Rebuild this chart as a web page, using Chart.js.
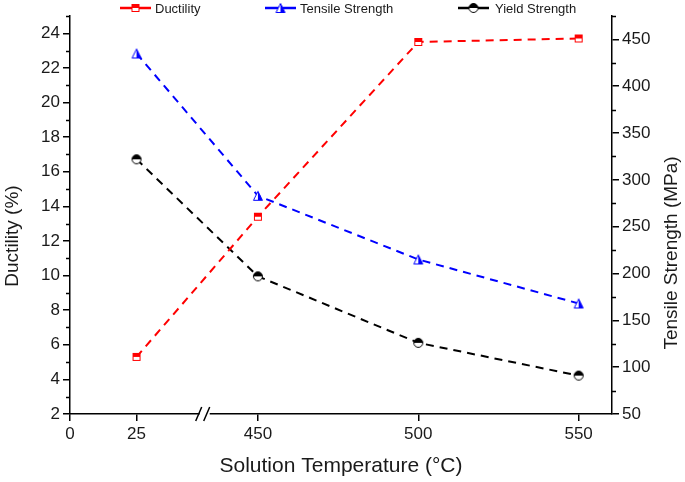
<!DOCTYPE html>
<html lang="en">
<head>
    <meta charset="UTF-8">
    <title>Solution Temperature</title>
    <script src="https://cdn.jsdelivr.net/npm/chart.js"></script>
    <style>
        body { margin: 0; background: #fff; }
        #wrap { width: 685px; height: 482px; }
    </style>
</head>
<body>
    <div id="wrap"><canvas id="chart" width="685" height="482"></canvas></div>

    <script>
        // Values
        const temps = [25, 450, 500, 550];
        const ductility = [5.3, 13.4, 23.5, 23.7];
        const tensile = [435, 283, 215, 168];
        const yieldStrength = [322, 197, 126, 91];

        const xTickTemps = [0, 25, 450, 500, 550];
        const leftTicks = [2, 4, 6, 8, 10, 12, 14, 16, 18, 20, 22, 24];
        const rightTicks = [50, 100, 150, 200, 250, 300, 350, 400, 450];

        // Broken x axis: 0-25 segment is compressed, 450+ is 1 unit per degree
        const LOW_SCALE = 0.83;
        const HIGH_START = 58.6;
        const BREAK_POS = 42;
        function axisPos(t) {
            return t <= 25 ? t * LOW_SCALE : HIGH_START + (t - 450);
        }

        const FONT = "Arial, 'Liberation Sans', sans-serif";
        const TEXT = '#1a1a1a';

        // Half filled markers like the original
        function marker(shape, color) {
            const s = 12;
            const c = document.createElement('canvas');
            c.width = s; c.height = s;
            const g = c.getContext('2d');
            g.lineWidth = 1;
            g.strokeStyle = color;
            g.fillStyle = '#fff';
            if (shape === 'square') {
                g.fillRect(2, 2, 8, 8);
                g.fillStyle = color;
                g.fillRect(2, 2, 8, 4);
                g.strokeRect(2.5, 2.5, 7, 7);
            } else if (shape === 'triangle') {
                g.beginPath();
                g.moveTo(6, 1.5); g.lineTo(10.5, 10.5); g.lineTo(1.5, 10.5); g.closePath();
                g.fill(); g.stroke();
                g.fillStyle = color;
                g.beginPath();
                g.moveTo(6, 1.5); g.lineTo(10.5, 10.5); g.lineTo(6, 10.5); g.closePath();
                g.fill();
            } else {
                g.beginPath();
                g.arc(6, 6, 4.5, 0, Math.PI * 2);
                g.fill(); g.stroke();
                g.fillStyle = color;
                g.beginPath();
                g.arc(6, 6, 4.5, Math.PI, Math.PI * 2);
                g.closePath();
                g.fill();
            }
            return c;
        }

        const toPoints = vals => vals.map((v, i) => ({ x: axisPos(temps[i]), y: v }));

        const datasets = [
            {
                label: 'Ductility',
                data: toPoints(ductility),
                yAxisID: 'y',
                borderColor: '#ff0000',
                pointStyle: marker('square', '#ff0000')
            },
            {
                label: 'Tensile Strength',
                data: toPoints(tensile),
                yAxisID: 'y2',
                borderColor: '#0000ff',
                pointStyle: marker('triangle', '#0000ff')
            },
            {
                label: 'Yield Strength',
                data: toPoints(yieldStrength),
                yAxisID: 'y2',
                borderColor: '#000000',
                pointStyle: marker('circle', '#000000')
            }
        ].map(d => Object.assign(d, {
            borderWidth: 2,
            borderDash: [8, 6],
            fill: false,
            tension: 0,
            pointRadius: 5
        }));

        // legend drawn at the top, line + marker + text
        const legendItems = [
            { x: 120, textX: 155 },
            { x: 265, textX: 300 },
            { x: 458, textX: 495 }
        ];
        const topLegend = {
            id: 'topLegend',
            afterDraw(chart) {
                const ctx = chart.ctx;
                ctx.save();
                chart.data.datasets.forEach((ds, i) => {
                    const it = legendItems[i];
                    const y = 8;
                    ctx.strokeStyle = ds.borderColor;
                    ctx.lineWidth = 2.5;
                    ctx.setLineDash([]);
                    ctx.beginPath();
                    ctx.moveTo(it.x, y); ctx.lineTo(it.x + 31, y);
                    ctx.stroke();
                    const img = ds.pointStyle;
                    ctx.drawImage(img, it.x + 15.5 - img.width / 2, y - img.height / 2);
                    ctx.fillStyle = TEXT;
                    ctx.font = '13px ' + FONT;
                    ctx.textBaseline = 'middle';
                    ctx.fillText(ds.label, it.textX, y + 1);
                });
                ctx.restore();
            }
        };

        // y titles: both read bottom to top, as in the original
        const yTitles = [
            { text: 'Ductility (%)', x: 13, y: 236 },
            { text: 'Tensile Strength (MPa)', x: 672, y: 253 }
        ];
        const sideTitles = {
            id: 'sideTitles',
            afterDraw(chart) {
                const ctx = chart.ctx;
                ctx.save();
                ctx.fillStyle = TEXT;
                ctx.font = '19px ' + FONT;
                ctx.textAlign = 'center';
                ctx.textBaseline = 'middle';
                yTitles.forEach(t => {
                    ctx.save();
                    ctx.translate(t.x, t.y);
                    ctx.rotate(-Math.PI / 2);
                    ctx.fillText(t.text, 0, 0);
                    ctx.restore();
                });
                ctx.restore();
            }
        };

        // minor ticks and the axis break
        const axisExtras = {
            id: 'axisExtras',
            afterDraw(chart) {
                const ctx = chart.ctx;
                const yl = chart.scales.y, yr = chart.scales.y2, xs = chart.scales.x;
                ctx.save();
                ctx.strokeStyle = '#000';
                ctx.lineWidth = 1.5;
                ctx.beginPath();
                for (let v = 3; v <= 25; v += 2) {
                    const p = Math.round(yl.getPixelForValue(v)) + 0.5;
                    ctx.moveTo(yl.right, p); ctx.lineTo(yl.right - 4, p);
                }
                for (let v = 75; v <= 475; v += 50) {
                    const p = Math.round(yr.getPixelForValue(v)) + 0.5;
                    ctx.moveTo(yr.left, p); ctx.lineTo(yr.left + 4, p);
                }
                ctx.stroke();

                const bx = xs.getPixelForValue(BREAK_POS);
                const by = xs.top;
                ctx.fillStyle = '#fff';
                ctx.fillRect(bx - 5, by - 3, 10, 6);
                ctx.beginPath();
                ctx.moveTo(bx - 9, by + 7); ctx.lineTo(bx - 3, by - 7);
                ctx.moveTo(bx - 1, by + 7); ctx.lineTo(bx + 5, by - 7);
                ctx.stroke();
                ctx.restore();
            }
        };

        const axisGrid = {
            drawOnChartArea: false,
            drawTicks: true,
            tickLength: 7,
            color: '#000',
            lineWidth: 1.5
        };
        const axisBorder = { display: true, color: '#000', width: 1.5 };
        const tickFont = { family: FONT, size: 17 };

        new Chart(document.getElementById('chart'), {
            type: 'line',
            data: { datasets: datasets },
            plugins: [topLegend, sideTitles, axisExtras],
            options: {
                responsive: false,
                animation: false,
                layout: { padding: { top: 16, left: 0, right: 0, bottom: 0 } },
                plugins: { legend: { display: false }, tooltip: { enabled: false } },
                scales: {
                    x: {
                        type: 'linear',
                        min: 0,
                        max: 169,
                        position: 'bottom',
                        grid: axisGrid,
                        border: axisBorder,
                        afterBuildTicks: s => { s.ticks = xTickTemps.map(t => ({ value: axisPos(t) })); },
                        afterFit: s => { s.height = 68; },
                        ticks: {
                            color: TEXT, font: tickFont, padding: 3, maxRotation: 0, autoSkip: false,
                            callback: (v, i) => xTickTemps[i]
                        },
                        title: {
                            display: true, text: 'Solution Temperature (°C)', color: TEXT,
                            font: { family: FONT, size: 21 }, padding: { top: 4, bottom: 3 }
                        }
                    },
                    y: {
                        type: 'linear',
                        min: 2,
                        max: 25,
                        position: 'left',
                        grid: axisGrid,
                        border: axisBorder,
                        afterBuildTicks: s => { s.ticks = leftTicks.map(v => ({ value: v })); },
                        afterFit: s => { s.width = 70; },
                        ticks: { color: TEXT, font: tickFont, padding: 3 }
                    },
                    y2: {
                        type: 'linear',
                        min: 50,
                        max: 475,
                        position: 'right',
                        grid: axisGrid,
                        border: axisBorder,
                        afterBuildTicks: s => { s.ticks = rightTicks.map(v => ({ value: v })); },
                        afterFit: s => { s.width = 73; },
                        ticks: { color: TEXT, font: tickFont, padding: 3 }
                    }
                }
            }
        });
    </script>
</body>
</html>
